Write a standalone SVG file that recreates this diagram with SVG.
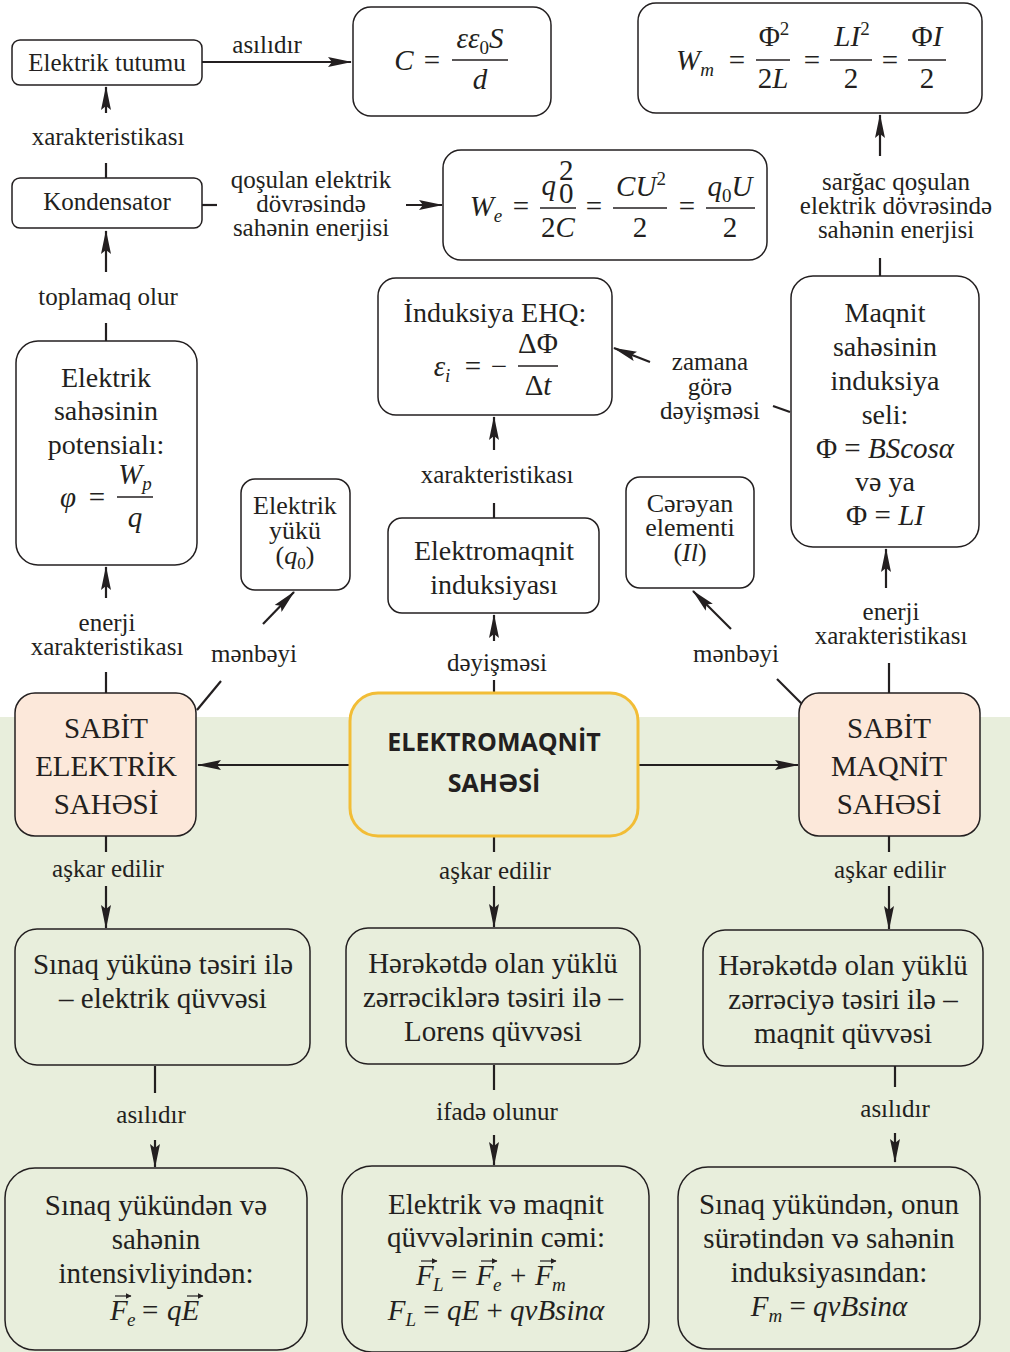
<svg xmlns="http://www.w3.org/2000/svg" width="1010" height="1352" viewBox="0 0 1010 1352">
<defs>
<marker id="ah" viewBox="0 0 24 10" refX="23" refY="5" markerWidth="24" markerHeight="10" orient="auto" markerUnits="userSpaceOnUse"><path d="M0,0 L24,5 L0,10 L4,5 z" fill="#231f20"/></marker>
<marker id="va" viewBox="0 0 6 6" refX="5.5" refY="3" markerWidth="6" markerHeight="6" orient="auto" markerUnits="userSpaceOnUse"><path d="M0,0 L6,3 L0,6 z" fill="#231f20"/></marker>
<style>
.bx{fill:#fff;stroke:#231f20;stroke-width:1.5}
.gb{fill:#e8eedc;stroke:#231f20;stroke-width:1.5}
.pc{fill:#fce8da;stroke:#231f20;stroke-width:1.5}
.em{fill:#e8eedc;stroke:#f2bd36;stroke-width:3}
.t{font-family:"Liberation Serif","DejaVu Serif",serif;fill:#231f20;text-anchor:middle}
.l{font-size:25px}
.n{font-size:28px}
.s{font-size:26px}
.b{font-size:29px}
.m{font-family:"Liberation Serif","DejaVu Serif",serif;fill:#231f20;text-anchor:middle;font-size:29px}
.ms{font-family:"Liberation Serif","DejaVu Serif",serif;fill:#231f20;font-size:29px}
.i{font-style:italic}
.sb{font-size:19px}
.c line,.c path{stroke:#231f20;stroke-width:2.2;fill:none}
.fr{stroke:#231f20;stroke-width:1.6}
.ar{marker-end:url(#ah)}
.vec{stroke:#231f20;stroke-width:1.2;fill:none;marker-end:url(#va)}
</style>
</defs>
<rect x="0" y="0" width="1010" height="1352" fill="#fff"/>
<rect x="0" y="717" width="1010" height="635" fill="#e8eedc"/>

<g id="connectors" class="c">
<path class="ar" d="M202,62 H351"/>
<path d="M106,178 V163"/><path class="ar" d="M106,113 V87"/>
<path d="M202,205 H217"/><path class="ar" d="M406,205 H442"/>
<path d="M106,341 V323"/><path class="ar" d="M106,272 V231"/>
<path d="M106,693 V672"/><path class="ar" d="M106,598 V567"/>
<path d="M197,710 L221,681"/><path class="ar" d="M263,624 L294,592"/>
<path d="M494,693 V680"/><path class="ar" d="M494,641 V615"/>
<path d="M494,518 V503"/><path class="ar" d="M494,450 V417"/>
<path d="M790,412 L773,406"/><path class="ar" d="M650,362 L614,348"/>
<path d="M880,276 V258"/><path class="ar" d="M880,156 V115"/>
<path d="M889,693 V663"/><path class="ar" d="M886,588 V549"/>
<path d="M806,708 L777,679"/><path class="ar" d="M731,629 L693,591"/>
<path class="ar" d="M350,765 H198"/>
<path class="ar" d="M638,765 H798"/>
<path d="M106,836 V852"/><path class="ar" d="M106,886 V928"/>
<path d="M494,836 V852"/><path class="ar" d="M494,886 V927"/>
<path d="M889,836 V852"/><path class="ar" d="M889,886 V929"/>
<path d="M155,1066 V1093"/><path class="ar" d="M155,1140 V1167"/>
<path d="M494,1065 V1090"/><path class="ar" d="M494,1135 V1165"/>
<path d="M895,1066 V1087"/><path class="ar" d="M895,1133 V1162"/>
</g>

<g id="labels">
<text class="t l" x="267" y="53">asılıdır</text>
<text class="t l" x="108" y="145">xarakteristikası</text>
<text class="t l" x="311" y="188">qoşulan elektrik</text>
<text class="t l" x="311" y="212">dövrəsində</text>
<text class="t l" x="311" y="236">sahənin enerjisi</text>
<text class="t l" x="108" y="305">toplamaq olur</text>
<text class="t l" x="107" y="631">enerji</text>
<text class="t l" x="107" y="655">xarakteristikası</text>
<text class="t l" x="254" y="662">mənbəyi</text>
<text class="t l" x="497" y="671">dəyişməsi</text>
<text class="t l" x="497" y="483">xarakteristikası</text>
<text class="t l" x="710" y="370">zamana</text>
<text class="t l" x="710" y="395">görə</text>
<text class="t l" x="710" y="419">dəyişməsi</text>
<text class="t l" x="896" y="190">sarğac qoşulan</text>
<text class="t l" x="896" y="214">elektrik dövrəsində</text>
<text class="t l" x="896" y="238">sahənin enerjisi</text>
<text class="t l" x="891" y="620">enerji</text>
<text class="t l" x="891" y="644">xarakteristikası</text>
<text class="t l" x="736" y="662">mənbəyi</text>
<text class="t l" x="108" y="877">aşkar edilir</text>
<text class="t l" x="495" y="879">aşkar edilir</text>
<text class="t l" x="890" y="878">aşkar edilir</text>
<text class="t l" x="151" y="1123">asılıdır</text>
<text class="t l" x="497" y="1120">ifadə olunur</text>
<text class="t l" x="895" y="1117">asılıdır</text>
</g>

<g id="n-tutumu">
<rect class="bx" x="12" y="40" width="190" height="45" rx="8"/>
<text class="t" font-size="25" x="107" y="71">Elektrik tutumu</text>
</g>

<g id="n-C">
<rect class="bx" x="353" y="7" width="198" height="109" rx="18"/>
<text class="m i" x="404" y="70">C</text>
<text class="m" x="432" y="70">=</text>
<text class="m i" x="480" y="48">εε<tspan class="sb" font-style="normal" dy="6">0</tspan><tspan dy="-6">S</tspan></text>
<line class="fr" x1="452" y1="60" x2="508" y2="60"/>
<text class="m i" x="480" y="89">d</text>
</g>

<g id="n-Wm">
<rect class="bx" x="638" y="3" width="344" height="110" rx="18"/>
<text class="m i" x="695" y="70">W<tspan class="sb" dy="6">m</tspan></text>
<text class="m" x="737" y="70">=</text>
<text class="m" x="774" y="46">Φ<tspan class="sb" dy="-11">2</tspan></text>
<line class="fr" x1="756" y1="60" x2="790" y2="60"/>
<text class="m" x="773" y="88">2<tspan class="i">L</tspan></text>
<text class="m" x="812" y="70">=</text>
<text class="m i" x="852" y="46">LI<tspan class="sb" font-style="normal" dy="-11">2</tspan></text>
<line class="fr" x1="830" y1="60" x2="872" y2="60"/>
<text class="m" x="851" y="88">2</text>
<text class="m" x="890" y="70">=</text>
<text class="m" x="927" y="46">Φ<tspan class="i">I</tspan></text>
<line class="fr" x1="908" y1="60" x2="946" y2="60"/>
<text class="m" x="927" y="88">2</text>
</g>

<g id="n-Kondensator">
<rect class="bx" x="12" y="178" width="190" height="50" rx="8"/>
<text class="t" font-size="25" x="107" y="210">Kondensator</text>
</g>

<g id="n-We">
<rect class="bx" x="443" y="150" width="324" height="110" rx="18"/>
<text class="m i" x="486" y="216">W<tspan class="sb" dy="6">e</tspan></text>
<text class="m" x="521" y="216">=</text>
<text class="ms i" x="556" y="195" text-anchor="end">q</text>
<text class="ms" font-size="16" x="559" y="180">2</text>
<text class="ms" font-size="16" x="559" y="203">0</text>
<line class="fr" x1="540" y1="208" x2="576" y2="208"/>
<text class="m" x="558" y="237">2<tspan class="i">C</tspan></text>
<text class="m" x="594" y="216">=</text>
<text class="m i" x="641" y="196">CU<tspan class="sb" font-style="normal" dy="-11">2</tspan></text>
<line class="fr" x1="613" y1="208" x2="667" y2="208"/>
<text class="m" x="640" y="237">2</text>
<text class="m" x="687" y="216">=</text>
<text class="m i" x="730" y="196">q<tspan class="sb" font-style="normal" dy="6">0</tspan><tspan dy="-6">U</tspan></text>
<line class="fr" x1="706" y1="208" x2="755" y2="208"/>
<text class="m" x="730" y="237">2</text>
</g>

<g id="n-EHQ">
<rect class="bx" x="378" y="278" width="234" height="137" rx="18"/>
<text class="t n" x="495" y="322">İnduksiya EHQ:</text>
<text class="m i" x="442" y="376">ε<tspan class="sb" dy="6">i</tspan></text>
<text class="m" x="473" y="376">=</text>
<text class="m" x="499" y="376">−</text>
<text class="m" x="538" y="353">ΔΦ</text>
<line class="fr" x1="518" y1="366" x2="558" y2="366"/>
<text class="m" x="538" y="395">Δ<tspan class="i">t</tspan></text>
</g>

<g id="n-Maqnit">
<rect class="bx" x="791" y="276" width="188" height="271" rx="22"/>
<text class="t n" x="885" y="322">Maqnit</text>
<text class="t n" x="885" y="356">sahəsinin</text>
<text class="t n" x="885" y="390">induksiya</text>
<text class="t n" x="885" y="424">seli:</text>
<text class="m" x="885" y="458">Φ = <tspan class="i">BScosα</tspan></text>
<text class="t n" x="885" y="491">və ya</text>
<text class="m" x="885" y="525">Φ = <tspan class="i">LI</tspan></text>
</g>

<g id="n-potensial">
<rect class="bx" x="16" y="341" width="181" height="224" rx="22"/>
<text class="t n" x="106" y="387">Elektrik</text>
<text class="t n" x="106" y="420">sahəsinin</text>
<text class="t n" x="106" y="454">potensialı:</text>
<text class="m i" x="68" y="507">φ</text>
<text class="m" x="97" y="507">=</text>
<text class="m i" x="135" y="484">W<tspan class="sb" dy="6">p</tspan></text>
<line class="fr" x1="117" y1="497" x2="153" y2="497"/>
<text class="m i" x="135" y="527">q</text>
</g>

<g id="n-yuku">
<rect class="bx" x="241" y="479" width="109" height="111" rx="14"/>
<text class="t s" x="295" y="514">Elektrik</text>
<text class="t s" x="295" y="539">yükü</text>
<text class="t s" x="295" y="564">(<tspan class="i">q</tspan><tspan font-size="17" dy="5">0</tspan><tspan dy="-5">)</tspan></text>
</g>

<g id="n-induksiya">
<rect class="bx" x="388" y="518" width="211" height="95" rx="14"/>
<text class="t n" x="494" y="560">Elektromaqnit</text>
<text class="t n" x="494" y="594">induksiyası</text>
</g>

<g id="n-cereyan">
<rect class="bx" x="626" y="477" width="128" height="111" rx="14"/>
<text class="t s" x="690" y="512">Cərəyan</text>
<text class="t s" x="690" y="536">elementi</text>
<text class="t s" x="690" y="561">(<tspan class="i">Il</tspan>)</text>
</g>

<g id="n-sabit-elektrik">
<rect class="pc" x="15" y="693" width="181" height="143" rx="20"/>
<text class="t b" x="106" y="738">SABİT</text>
<text class="t b" x="106" y="776">ELEKTRİK</text>
<text class="t b" x="106" y="814">SAHƏSİ</text>
</g>

<g id="n-elektromaqnit">
<rect class="em" x="350" y="693" width="288" height="143" rx="28"/>
<text x="494" y="751" text-anchor="middle" font-family="'Open Sans','Noto Sans',sans-serif" font-weight="700" font-size="25" fill="#231f20">ELEKTROMAQNİT</text>
<text x="494" y="792" text-anchor="middle" font-family="'Open Sans','Noto Sans',sans-serif" font-weight="700" font-size="25" fill="#231f20">SAHƏSİ</text>
</g>

<g id="n-sabit-maqnit">
<rect class="pc" x="799" y="693" width="181" height="143" rx="20"/>
<text class="t b" x="889" y="738">SABİT</text>
<text class="t b" x="889" y="776">MAQNİT</text>
<text class="t b" x="889" y="814">SAHƏSİ</text>
</g>

<g id="n-sinaq">
<rect class="gb" x="15" y="929" width="295" height="136" rx="22"/>
<text class="t b" x="163" y="974">Sınaq yükünə təsiri ilə</text>
<text class="t b" x="163" y="1008">– elektrik qüvvəsi</text>
</g>

<g id="n-lorens">
<rect class="gb" x="346" y="928" width="294" height="136" rx="22"/>
<text class="t b" x="493" y="973">Hərəkətdə olan yüklü</text>
<text class="t b" x="493" y="1007">zərrəciklərə təsiri ilə –</text>
<text class="t b" x="493" y="1041">Lorens qüvvəsi</text>
</g>

<g id="n-maqnit-quvve">
<rect class="gb" x="703" y="930" width="280" height="136" rx="22"/>
<text class="t b" x="843" y="975">Hərəkətdə olan yüklü</text>
<text class="t b" x="843" y="1009">zərrəciyə təsiri ilə –</text>
<text class="t b" x="843" y="1043">maqnit qüvvəsi</text>
</g>

<g id="n-Fe">
<rect class="gb" x="5" y="1168" width="302" height="182" rx="30"/>
<text class="t b" x="156" y="1215">Sınaq yükündən və</text>
<text class="t b" x="156" y="1249">sahənin</text>
<text class="t b" x="156" y="1283">intensivliyindən:</text>
<text class="ms i" x="110" y="1320">F</text>
<text class="ms i sb" x="127" y="1326">e</text>
<text class="ms" x="142" y="1320">=</text>
<text class="ms i" x="167" y="1320">qE</text>
<path class="vec" d="M115,1296 H131"/>
<path class="vec" d="M187,1296 H203"/>
</g>

<g id="n-FL">
<rect class="gb" x="342" y="1166" width="307" height="186" rx="30"/>
<text class="t b" x="496" y="1214">Elektrik və maqnit</text>
<text class="t b" x="496" y="1247">qüvvələrinin cəmi:</text>
<text class="ms i" x="416" y="1285">F</text>
<text class="ms i sb" x="433" y="1291">L</text>
<text class="ms" x="451" y="1285">=</text>
<text class="ms i" x="476" y="1285">F</text>
<text class="ms i sb" x="493" y="1291">e</text>
<text class="ms" x="510" y="1285">+</text>
<text class="ms i" x="535" y="1285">F</text>
<text class="ms i sb" x="552" y="1291">m</text>
<path class="vec" d="M421,1261 H437"/>
<path class="vec" d="M481,1261 H497"/>
<path class="vec" d="M540,1261 H556"/>
<text class="m i" x="496" y="1320">F<tspan class="sb" dy="6">L</tspan><tspan dy="-6" font-style="normal"> = </tspan>qE<tspan font-style="normal"> + </tspan>qvBsinα</text>
</g>

<g id="n-Fm">
<rect class="gb" x="678" y="1167" width="302" height="182" rx="30"/>
<text class="t b" x="829" y="1214">Sınaq yükündən, onun</text>
<text class="t b" x="829" y="1248">sürətindən və sahənin</text>
<text class="t b" x="829" y="1282">induksiyasından:</text>
<text class="m i" x="829" y="1316">F<tspan class="sb" dy="6">m</tspan><tspan dy="-6" font-style="normal"> = </tspan>qvBsinα</text>
</g>
</svg>
